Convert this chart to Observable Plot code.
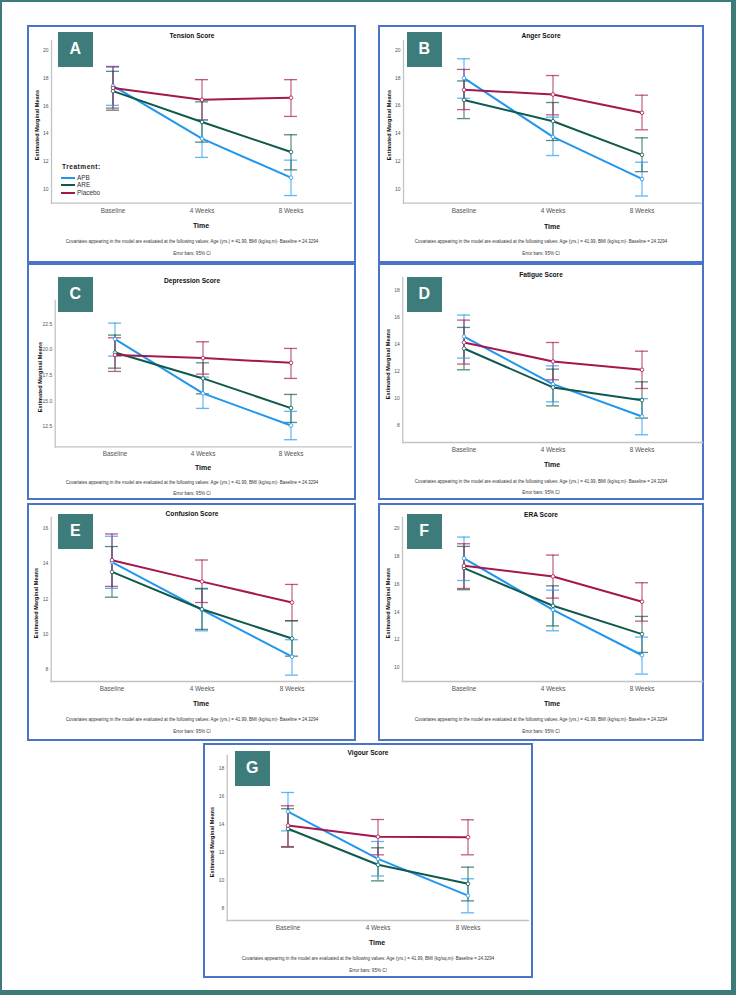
<!DOCTYPE html>
<html>
<head>
<meta charset="utf-8">
<script src="https://cdn.jsdelivr.net/npm/d3@7"></script>
<script src="https://cdn.jsdelivr.net/npm/@observablehq/plot@0.6"></script>
<style>
  html, body { margin: 0; padding: 0; background: #fff; }
  #page {
    position: relative; width: 736px; height: 995px; box-sizing: border-box;
    background: #fff; overflow: hidden;
    border-style: solid; border-color: #3b7b78;
    border-width: 2px 5px 5px 2px;
  }
  .panel { position: absolute; box-sizing: border-box; border: 2px solid #4a74c9; }
  .tag {
    position: absolute; background: #3e7c7b; color: #fff;
    font: bold 16px "Liberation Sans", Arial, sans-serif;
    display: flex; align-items: center; justify-content: center;
  }
  svg { position: absolute; }
</style>
</head>
<body>
<div id="page"></div>
<script>
// Time points, treatment groups and colours
const times = ["Baseline", "4 Weeks", "8 Weeks"];
const groups = ["APB", "ARE", "Placebo"];
const groupColors = ["#2196ee", "#0f5a4c", "#a5174f"];

// Estimated marginal means and 95% CI limits; rows = APB, ARE, Placebo
const tensionMean = [[17.45, 13.65, 10.84], [17.07, 14.85, 12.69], [17.3, 16.45, 16.6]];
const tensionLow  = [[16.05, 12.3, 9.55], [15.7, 13.4, 11.4], [15.85, 15.0, 15.25]];
const tensionHigh = [[18.8, 15.0, 12.1], [18.5, 16.3, 13.93], [18.85, 17.9, 17.9]];

const angerMean = [[18.0, 13.76, 10.72], [16.43, 14.89, 12.46], [17.16, 16.82, 15.5]];
const angerLow  = [[16.55, 12.41, 9.49], [15.08, 13.5, 11.25], [15.73, 15.35, 14.27]];
const angerHigh = [[19.4, 15.18, 11.93], [17.8, 16.24, 13.69], [18.63, 18.19, 16.77]];

const depressionMean = [[21.04, 15.75, 12.63], [19.73, 17.21, 14.32], [19.5, 19.19, 18.73]];
const depressionLow  = [[19.38, 14.29, 11.24], [18.21, 15.71, 12.92], [17.89, 17.63, 17.21]];
const depressionHigh = [[22.6, 17.34, 14.0], [21.43, 18.73, 15.65], [21.17, 20.78, 20.13]];

const fatigueMean = [[14.58, 11.07, 8.69], [13.7, 10.83, 9.89], [14.14, 12.74, 12.13]];
const fatigueLow  = [[12.99, 9.77, 7.34], [12.13, 9.47, 8.57], [12.55, 11.39, 10.75]];
const fatigueHigh = [[16.16, 12.42, 10.0], [15.25, 12.18, 11.24], [15.79, 14.14, 13.5]];

const confusionMean = [[14.08, 11.39, 8.74], [13.53, 11.42, 9.77], [14.19, 12.98, 11.8]];
const confusionLow  = [[12.6, 10.2, 7.7], [12.1, 10.28, 8.77], [12.71, 11.8, 10.77]];
const confusionHigh = [[15.54, 12.6, 9.7], [14.96, 12.57, 10.77], [15.67, 14.2, 12.82]];

const eraMean = [[17.83, 14.15, 10.9], [17.14, 14.44, 12.41], [17.3, 16.54, 14.73]];
const eraLow  = [[16.25, 12.65, 9.55], [15.59, 13.0, 11.1], [15.68, 14.99, 13.34]];
const eraHigh = [[19.36, 15.56, 12.2], [18.69, 15.87, 13.68], [18.88, 18.07, 16.09]];

const vigourMean = [[14.9, 11.52, 8.9], [13.67, 11.1, 9.74], [13.9, 13.1, 13.07]];
const vigourLow  = [[13.52, 10.3, 7.67], [12.35, 9.95, 8.52], [12.4, 11.81, 11.81]];
const vigourHigh = [[16.26, 12.76, 10.1], [15.1, 12.31, 10.93], [15.31, 14.33, 14.31]];

// Y tick values per scale
const ticksTension = [10, 12, 14, 16, 18, 20];
const ticksAnger = [10, 12, 14, 16, 18, 20];
const ticksDepression = [12.5, 15.0, 17.5, 20.0, 22.5];
const ticksFatigue = [8, 10, 12, 14, 16, 18];
const ticksConfusion = [8, 10, 12, 14, 16];
const ticksEra = [10, 12, 14, 16, 18, 20];
const ticksVigour = [8, 10, 12, 14, 16, 18];

const footerText = "Covariates appearing in the model are evaluated at the following values: Age (yrs.) = 41.99, BMI (kg/sq.m)- Baseline = 24.3294";
const errorText = "Error bars: 95% CI";
const FONT = '"Liberation Sans", Arial, sans-serif';
const CAP = 13; // error-bar cap width in px (= band width)

// Panel geometry (page pixels)
const panels = [
  {tag: "A", title: "Tension Score", left: 27, top: 25, w: 329, h: 238, axL: 51, axR: 351, axTop: 40, axBot: 202.7,
   y: [9.0, 20.72], ticks: ticksTension, fmt: "d", box: [31, 7], titleY: 11, off: [8, 23.5, 38, 50.3], legend: true,
   mean: tensionMean, low: tensionLow, high: tensionHigh},
  {tag: "B", title: "Anger Score", left: 378, top: 25, w: 326, h: 238, axL: 403, axR: 701, axTop: 40, axBot: 202.7,
   y: [8.97, 20.72], ticks: ticksAnger, fmt: "d", box: [29, 7], titleY: 11, off: [8.3, 24, 38.3, 50.6],
   mean: angerMean, low: angerLow, high: angerHigh},
  {tag: "C", title: "Depression Score", left: 27, top: 263, w: 329, h: 237, axL: 54.7, axR: 351, axTop: 300, axBot: 446.3,
   y: [10.55, 24.8], ticks: ticksDepression, fmt: ".1f", box: [31, 14], titleY: 17.7, off: [7.5, 21.5, 35.7, 46.4],
   mean: depressionMean, low: depressionLow, high: depressionHigh},
  {tag: "D", title: "Fatigue Score", left: 378, top: 263, w: 326, h: 237, axL: 402.3, axR: 702, axTop: 277, axBot: 442,
   y: [6.77, 18.93], ticks: ticksFatigue, fmt: "d", box: [29, 14], titleY: 12.3, off: [7.7, 22.7, 39, 50],
   mean: fatigueMean, low: fatigueLow, high: fatigueHigh},
  {tag: "E", title: "Confusion Score", left: 27, top: 503, w: 329, h: 238, axL: 50.7, axR: 352, axTop: 517, axBot: 681,
   y: [7.34, 16.6], ticks: ticksConfusion, fmt: "d", box: [31, 11], titleY: 11.3, off: [7.7, 23, 38, 50],
   mean: confusionMean, low: confusionLow, high: confusionHigh},
  {tag: "F", title: "ERA Score", left: 378, top: 503, w: 326, h: 238, axL: 402, axR: 702, axTop: 517, axBot: 681,
   y: [9.02, 20.76], ticks: ticksEra, fmt: "d", box: [29, 11], titleY: 11.7, off: [7.7, 23, 38, 50],
   mean: eraMean, low: eraLow, high: eraHigh},
  {tag: "G", title: "Vigour Score", left: 203, top: 743, w: 330, h: 235, axL: 226.7, axR: 528, axTop: 755, axBot: 920,
   y: [7.12, 18.9], ticks: ticksVigour, fmt: "d", box: [32, 8], titleY: 10.3, off: [8.3, 22.7, 38.3, 50],
   mean: vigourMean, low: vigourLow, high: vigourHigh}
];

const page = document.getElementById("page");
const BORDER_L = 2, BORDER_T = 2; // page border offset for absolutely placed children

// Small text helper: renders at 4x then scales down so tiny sizes stay exact
function label(text, x, y, size, {anchor = "middle", weight = 400, color = "#222", rotate = 0, spacing = 0} = {}) {
  const k = 4;
  const el = document.createElement("div");
  el.textContent = text;
  Object.assign(el.style, {
    position: "absolute", left: (x - BORDER_L) + "px", top: (y - BORDER_T) + "px",
    fontSize: size * k + "px", fontWeight: weight, color, whiteSpace: "nowrap",
    lineHeight: "1", fontFamily: FONT, letterSpacing: spacing * k + "px", zIndex: 2
  });
  const tx = anchor === "start" ? "0" : anchor === "end" ? "-100%" : "-50%";
  const ox = anchor === "start" ? "0%" : anchor === "end" ? "100%" : "50%";
  el.style.transformOrigin = `${ox} 50%`;
  el.style.transform = `translate(${tx},-50%) rotate(${rotate}deg) scale(${1 / k})`;
  page.appendChild(el);
  return el;
}

function rowsFrom(mean, low, high) {
  const rows = [];
  groups.forEach((g, gi) => times.forEach((t, ti) => {
    rows.push({group: g, time: t, mean: mean[gi][ti], low: low[gi][ti], high: high[gi][ti]});
  }));
  return rows;
}

for (const p of panels) {
  // panel frame
  const frame = document.createElement("div");
  frame.className = "panel";
  Object.assign(frame.style, {left: (p.left - BORDER_L) + "px", top: (p.top - BORDER_T) + "px", width: p.w + "px", height: p.h + "px"});
  page.appendChild(frame);

  // band scale whose band centres sit at 1/5, 1/2, 4/5 of the axis, band width = cap width
  const L = p.axR - p.axL;
  const step = L / (2 + 2 * 0.667);
  const paddingInner = 1 - CAP / step;
  const paddingOuter = 0.667 - (CAP / 2) / step;

  const rows = rowsFrom(p.mean, p.low, p.high);
  const chart = Plot.plot({
    width: p.w, height: p.h,
    marginLeft: p.axL - p.left,
    marginRight: p.left + p.w - p.axR,
    marginTop: p.axTop - p.top,
    marginBottom: p.top + p.h - p.axBot,
    style: {background: "transparent", fontFamily: FONT, overflow: "visible"},
    x: {type: "band", domain: times, paddingInner, paddingOuter, align: 0.5, label: null},
    y: {domain: p.y, label: null},
    color: {domain: groups, range: groupColors},
    marks: [
      Plot.frame({anchor: "left", stroke: "#c2c2c2", strokeWidth: 1.3}),
      Plot.frame({anchor: "bottom", stroke: "#c2c2c2", strokeWidth: 1.3}),
      Plot.axisY({ticks: p.ticks, tickSize: 0, tickPadding: 3, tickFormat: d3.format(p.fmt), fontSize: 5, color: "#555", label: null}),
      Plot.axisX({tickSize: 0, tickPadding: 5, fontSize: 6.4, color: "#555", label: null}),
      // 95% CI whiskers and caps
      Plot.ruleX(rows, {x: "time", y1: "low", y2: "high", stroke: "group", strokeWidth: 1.2, strokeOpacity: 0.7}),
      Plot.tickY(rows, {x: "time", y: "low", stroke: "group", strokeWidth: 1.3, strokeOpacity: 0.7}),
      Plot.tickY(rows, {x: "time", y: "high", stroke: "group", strokeWidth: 1.3, strokeOpacity: 0.7}),
      // mean profiles
      Plot.line(rows, {x: "time", y: "mean", z: "group", stroke: "group", strokeWidth: 2}),
      Plot.dot(rows, {x: "time", y: "mean", stroke: "group", fill: "white", r: 1.8, strokeWidth: 0.8})
    ]
  });
  chart.style.left = (p.left - BORDER_L) + "px";
  chart.style.top = (p.top - BORDER_T) + "px";
  chart.style.zIndex = 1;
  page.appendChild(chart);

  // letter tag
  const tag = document.createElement("div");
  tag.className = "tag";
  tag.textContent = p.tag;
  Object.assign(tag.style, {left: (p.left + p.box[0] - BORDER_L) + "px", top: (p.top + p.box[1] - BORDER_T) + "px", width: "34.5px", height: "34.5px", zIndex: 3});
  page.appendChild(tag);

  const cx = p.left + p.w / 2;
  const midX = (p.axL + p.axR) / 2;
  label(p.title, cx, p.top + p.titleY, 6.6, {weight: 700, color: "#111"});
  label("Time", midX, p.axBot + p.off[1], 7, {weight: 700, color: "#111"});
  label(footerText, cx, p.axBot + p.off[2], 4.5, {color: "#333"});
  label(errorText, cx, p.axBot + p.off[3], 4.5, {color: "#333"});
  label("Estimated Marginal Means", p.axL - 14.5, (p.axTop + p.axBot) / 2 + 4, 5.6, {weight: 700, color: "#111", rotate: -90});

  if (p.legend) {
    label("Treatment:", 62, 166.7, 6.6, {anchor: "start", weight: 700, color: "#222", spacing: 0.5});
    const ys = [178, 185.3, 192.7];
    groups.forEach((g, i) => {
      const sw = document.createElement("div");
      Object.assign(sw.style, {position: "absolute", left: (61 - BORDER_L) + "px", top: (ys[i] - 1 - BORDER_T) + "px", width: "14px", height: "2px", background: groupColors[i], zIndex: 2});
      page.appendChild(sw);
      label(g, 77, ys[i], 6.4, {anchor: "start", color: "#333"});
    });
  }
}
</script>
</body>
</html>
